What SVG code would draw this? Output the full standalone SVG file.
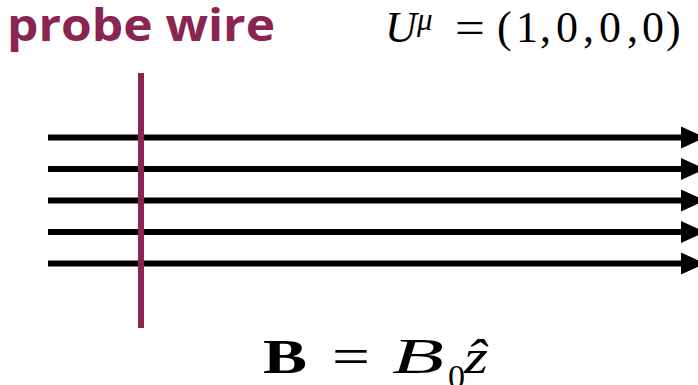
<svg xmlns="http://www.w3.org/2000/svg" width="698" height="385" viewBox="0 0 698 385">
<defs>
<style>
.fl{stroke:#000;stroke-width:6;fill:none;marker-end:url(#ah)}
.wire{stroke:#8a2450;stroke-width:6}
.lbl{font-family:"Open Sans","Liberation Sans",sans-serif;font-weight:700;fill:#8a2450}
.m{font-family:"Liberation Serif","DejaVu Serif",serif;fill:#000}
.i{font-style:italic}
</style>
<marker id="ah" markerUnits="userSpaceOnUse" markerWidth="24" markerHeight="24" viewBox="0 0 24 24" refX="0" refY="12" orient="auto">
<path d="M0,1 L24,12 L0,23 Z" fill="#000"/>
</marker>
</defs>
<rect width="698" height="385" fill="#fff"/>
<g id="field-lines">
<line class="fl" x1="48" y1="137.5" x2="681" y2="137.5"/>
<line class="fl" x1="48" y1="169" x2="681" y2="169"/>
<line class="fl" x1="48" y1="200.5" x2="681" y2="200.5"/>
<line class="fl" x1="48" y1="232" x2="681" y2="232"/>
<line class="fl" x1="48" y1="263.5" x2="681" y2="263.5"/>
</g>
<g id="probe-wire">
<line class="wire" x1="141" y1="73" x2="141" y2="328"/>
<text class="lbl" x="7" y="41" font-size="44" textLength="268" lengthAdjust="spacingAndGlyphs">probe wire</text>
</g>
<g id="velocity">
<text class="m i" x="385" y="42" font-size="44">U</text>
<text class="m i" x="417" y="30" font-size="31">μ</text>
<text class="m" x="455" y="43" font-size="46" textLength="30" lengthAdjust="spacingAndGlyphs">=</text>
<text class="m" y="42" font-size="44" x="497 516 540 556 583 599 627 642 666">(1,0,0,0)</text>
</g>
<g id="field">
<text class="m" x="263" y="373" font-size="48" font-weight="700" textLength="44" lengthAdjust="spacingAndGlyphs">B</text>
<text class="m" x="332" y="374" font-size="52" textLength="38" lengthAdjust="spacingAndGlyphs">=</text>
<text class="m i" x="392" y="373" font-size="50" textLength="52" lengthAdjust="spacingAndGlyphs">B</text>
<text class="m" x="448" y="388" font-size="34">0</text>
<text class="m i" x="464" y="373" font-size="48" textLength="24" lengthAdjust="spacingAndGlyphs">ẑ</text>
</g>
</svg>
